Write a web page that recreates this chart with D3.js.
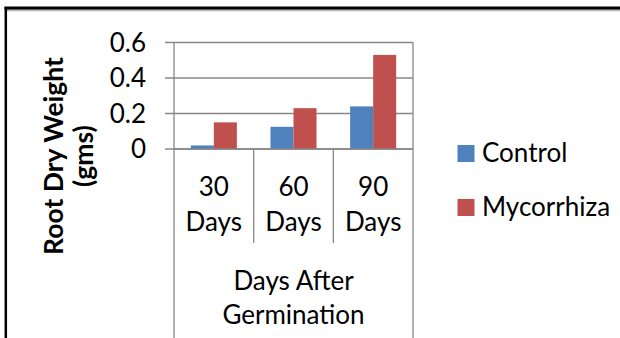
<!DOCTYPE html>
<html>
<head>
<meta charset="utf-8">
<script src="https://cdn.jsdelivr.net/npm/d3@7/dist/d3.min.js"></script>
<style>
  html, body { margin: 0; padding: 0; background: #fff; }
  svg { display: block; }
  text { font-family: Lato, "Liberation Sans", sans-serif; fill: #000; }
</style>
</head>
<body>
<script>
// Root dry weight (gms) by days after germination
const categories = ["30 Days", "60 Days", "90 Days"];
const seriesNames = ["Control", "Mycorrhiza"];
const control = [0.02, 0.125, 0.24];
const mycorrhiza = [0.15, 0.23, 0.53];
const yTicks = [0, 0.2, 0.4, 0.6];
const yTitle = ["Root Dry Weight", "(gms)"];
const xTitle = ["Days After", "Germination"];
const colors = ["#4F81BD", "#C0504D"];

const W = 620, H = 338;
const fontSize = "26px";
const svg = d3.select("body").append("svg").attr("width", W).attr("height", H);

// Frame
svg.append("line").attr("x1", 5).attr("x2", W).attr("y1", 10.3).attr("y2", 10.3)
  .attr("stroke", "#b4b4b4").attr("stroke-width", 2);
svg.append("line").attr("x1", 4.5).attr("x2", W).attr("y1", 8).attr("y2", 8)
  .attr("stroke", "#000").attr("stroke-width", 3);
svg.append("line").attr("x1", 5.8).attr("x2", 5.8).attr("y1", 7).attr("y2", H)
  .attr("stroke", "#000").attr("stroke-width", 2.5);

const plot = { left: 174, right: 413, top: 42.5, bottom: 149 };
const axisColor = "#878787";

const x0 = d3.scaleBand().domain(categories).range([plot.left, plot.right]).padding(0);
const x1 = d3.scaleBand().domain(seriesNames).range([0, x0.bandwidth()])
  .paddingInner(0).paddingOuter(0.73);
const y = d3.scaleLinear().domain([0, 0.6]).range([plot.bottom, plot.top]);

// Gridlines and ticks
const g = svg.append("g");
g.selectAll("line.grid").data(yTicks).join("line")
  .attr("x1", plot.left - 9).attr("x2", plot.right)
  .attr("y1", d => y(d)).attr("y2", d => y(d))
  .attr("stroke", axisColor).attr("stroke-width", 1.3);

g.selectAll("text.ytick").data(yTicks).join("text")
  .attr("x", plot.left - 28).attr("y", d => y(d))
  .attr("dy", "0.35em").attr("text-anchor", "end")
  .style("font-size", fontSize)
  .text(d => d === 0 ? "0" : d.toFixed(1));

// Bars
const rows = categories.map((c, i) => ({ cat: c, vals: [control[i], mycorrhiza[i]] }));
const groups = svg.append("g").selectAll("g").data(rows).join("g")
  .attr("transform", d => `translate(${x0(d.cat)},0)`);
groups.selectAll("rect").data(d => d.vals.map((v, k) => ({ k, v }))).join("rect")
  .attr("x", d => x1(seriesNames[d.k]))
  .attr("width", x1.bandwidth())
  .attr("y", d => y(d.v))
  .attr("height", d => y(0) - y(d.v))
  .attr("fill", d => colors[d.k]);

// Category axis: outer boundaries run down to the bottom, inner dividers stop below the labels
const bounds = categories.map(c => x0(c)).concat([plot.right]);
svg.selectAll("line.cat").data(bounds).join("line")
  .attr("x1", d => d).attr("x2", d => d)
  .attr("y1", (d, i) => (i === 0 || i === bounds.length - 1) ? plot.top : plot.bottom)
  .attr("y2", (d, i) => (i === 0 || i === bounds.length - 1) ? H : 243)
  .attr("stroke", axisColor).attr("stroke-width", 1.3);
svg.append("line").attr("x1", plot.left).attr("x2", plot.right)
  .attr("y1", y(0)).attr("y2", y(0)).attr("stroke", axisColor).attr("stroke-width", 1.3);

// Category labels (two lines)
categories.forEach(c => {
  const parts = c.split(" ");
  const t = svg.append("text").attr("text-anchor", "middle").style("font-size", fontSize);
  parts.forEach((p, i) => {
    t.append("tspan").attr("x", x0(c) + x0.bandwidth() / 2).attr("y", 196 + i * 35).text(p);
  });
});

// X axis title
const xt = svg.append("text").attr("text-anchor", "middle").style("font-size", fontSize);
xTitle.forEach((p, i) => {
  xt.append("tspan").attr("x", (plot.left + plot.right) / 2).attr("y", 290 + i * 34).text(p);
});

// Y axis title
const yt = svg.append("text").attr("text-anchor", "middle")
  .attr("transform", "translate(0,156) rotate(-90)")
  .style("font-size", "26.5px").style("font-weight", "bold");
yTitle.forEach((p, i) => {
  yt.append("tspan").attr("x", 0).attr("y", 62.5 + i * 30.5).text(p);
});

// Legend
const legend = svg.append("g").selectAll("g").data(seriesNames).join("g")
  .attr("transform", (d, i) => `translate(457.5,${145 + i * 54})`);
legend.append("rect").attr("width", 17).attr("height", 17).attr("fill", (d, i) => colors[i]);
legend.append("text").attr("x", 24.5).attr("y", 17).style("font-size", fontSize).text(d => d);
</script>
</body>
</html>
